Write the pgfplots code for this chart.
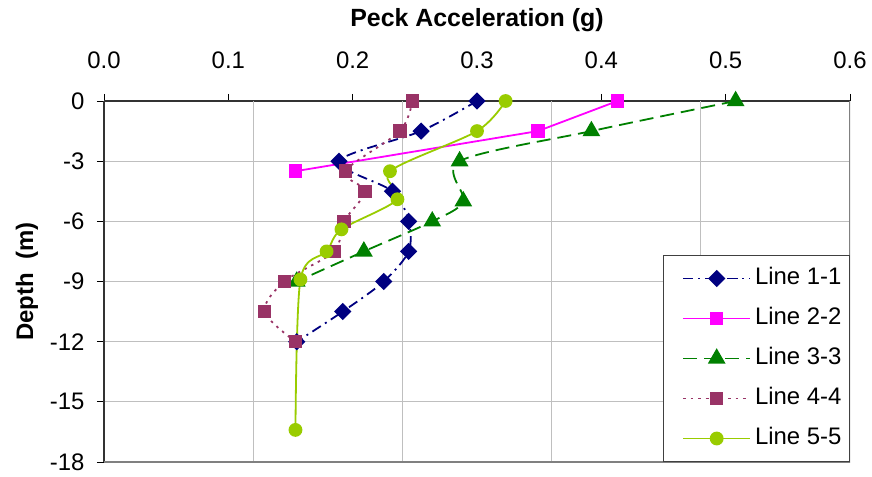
\documentclass[border=0pt]{standalone}
\usepackage{fontspec}
\setmainfont{Liberation Sans}
\usepackage{pgfplots}
\pgfplotsset{compat=1.18}

\definecolor{lineA}{HTML}{000080}
\definecolor{lineB}{HTML}{FF00FF}
\definecolor{lineC}{HTML}{008000}
\definecolor{lineD}{HTML}{993366}
\definecolor{lineE}{HTML}{99CC00}

\begin{document}
\begin{tikzpicture}
\begin{axis}[
    width=746bp, height=361bp, scale only axis,
    xmin=0, xmax=0.6, ymin=-18, ymax=0,
    axis x line*=top, axis y line*=left,
    axis line style={black!80, line width=1.2bp},
    xtick={0,0.1,0.2,0.3,0.4,0.5,0.6},
    ytick={-18,-15,-12,-9,-6,-3,0},
    tick align=outside, major tick length=7bp,
    tick style={black, line width=0.8bp},
    /pgf/number format/assume math mode=true,
    xticklabel style={/pgf/number format/fixed, /pgf/number format/fixed zerofill,
        /pgf/number format/precision=1, yshift=22bp},
    yticklabel style={xshift=-9bp},
    tick label style={font=\fontsize{24}{28}\selectfont},
    ymajorgrids, grid style={draw=black!25, line width=1bp},
    extra x ticks={0.12,0.24,0.36,0.48}, extra x tick labels={},
    extra x tick style={xmajorgrids=true, major tick length=0pt},
    title={Peck Acceleration (g)},
    title style={at={(0.5,1)}, anchor=center, yshift=75bp,
        font=\fontsize{25}{29}\selectfont\bfseries},
    ylabel={Depth\ \ (m)},
    ylabel style={at={(rel axis cs:0,0.5)}, anchor=center, rotate=0, yshift=77bp,
        font=\fontsize{24}{28}\selectfont\bfseries},
    legend style={at={(1,0)}, anchor=south east, draw=black!75, line width=1bp,
        font=\fontsize{24}{28}\selectfont, row sep=18bp, column sep=0bp,
        inner xsep=4bp, inner ysep=12bp,
        nodes={text height=17bp, text depth=5bp, inner ysep=0bp, inner xsep=4bp}},
    legend cell align=left,
    legend image code/.code={\path (0bp,0bp);
        \draw[mark repeat=2, mark phase=2, #1]
        plot coordinates {(15bp,0bp) (48.5bp,0bp) (82bp,0bp)};},
]
\coordinate (bl) at (rel axis cs:0,0);
\coordinate (tr) at (rel axis cs:1,1);
\draw[black!50, line width=1.5bp] (rel axis cs:0,0) -- (rel axis cs:1,0) -- (rel axis cs:1,1);

% Line 1-1
\addplot[lineA, line width=1.8bp, smooth, dash pattern=on 10bp off 5bp on 2bp off 5bp,
    mark=square*, mark size=5.2bp, mark options={solid, rotate=45}] coordinates {
    (0.300,0) (0.255,-1.5) (0.189,-3) (0.232,-4.5) (0.245,-6)
    (0.245,-7.5) (0.225,-9) (0.192,-10.5) (0.155,-12)
};
% Line 2-2
\addplot[lineB, line width=1.8bp, mark=square*, mark size=5.8bp] coordinates {
    (0.413,0) (0.349,-1.5) (0.154,-3.5)
};
% Line 3-3
\addplot[lineC, line width=1.8bp, smooth, dash pattern=on 14bp off 7bp,
    mark=triangle*, mark size=8.5bp, mark options={solid}] coordinates {
    (0.508,0) (0.392,-1.5) (0.286,-3) (0.289,-5) (0.264,-6) (0.209,-7.5) (0.155,-9)
};
% Line 4-4
\addplot[lineD, line width=1.8bp, smooth, dash pattern=on 2.5bp off 5bp,
    mark=square*, mark size=5.8bp, mark options={solid}] coordinates {
    (0.248,0) (0.238,-1.5) (0.194,-3.5) (0.210,-4.5) (0.193,-6)
    (0.185,-7.5) (0.145,-9) (0.129,-10.5) (0.154,-12)
};
% Line 5-5
\addplot[lineE, line width=1.8bp, smooth, mark=*, mark size=6bp] coordinates {
    (0.323,0) (0.300,-1.5) (0.230,-3.5) (0.236,-4.9) (0.191,-6.4)
    (0.179,-7.5) (0.158,-8.9) (0.154,-16.4)
};
\legend{Line 1-1, Line 2-2, Line 3-3, Line 4-4, Line 5-5}
\end{axis}
\pgfresetboundingbox
\path ([xshift=-104bp,yshift=-14bp]bl) rectangle ([xshift=22bp,yshift=101bp]tr);
\end{tikzpicture}
\end{document}
